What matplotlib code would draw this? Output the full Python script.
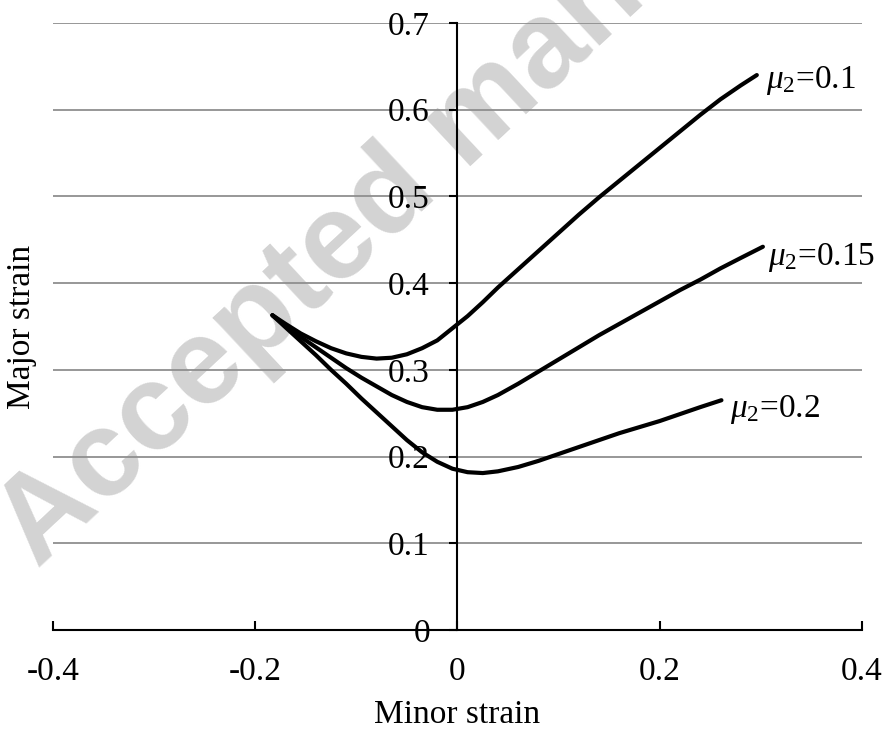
import matplotlib
matplotlib.use("Agg")
import matplotlib.pyplot as plt

plt.rcParams['font.family'] = ['Liberation Serif', 'DejaVu Serif']
plt.rcParams['mathtext.fontset'] = 'custom'
plt.rcParams['mathtext.rm'] = 'Liberation Serif'
plt.rcParams['mathtext.it'] = 'Liberation Serif:italic'
plt.rcParams['axes.unicode_minus'] = False

# curves (minor strain, major strain)
x_mu010 = [-0.183, -0.17, -0.155, -0.14, -0.125, -0.11, -0.095, -0.08, -0.065, -0.05,
           -0.035, -0.02, -0.005, 0.01, 0.025, 0.04, 0.06, 0.08, 0.10, 0.12,
           0.14, 0.16, 0.18, 0.20, 0.22, 0.24, 0.26, 0.28, 0.296]
y_mu010 = [0.363, 0.353, 0.342, 0.333, 0.325, 0.319, 0.315, 0.313, 0.314, 0.318,
           0.325, 0.334, 0.348, 0.362, 0.378, 0.395, 0.416, 0.437, 0.458, 0.479,
           0.499, 0.518, 0.537, 0.556, 0.575, 0.594, 0.612, 0.628, 0.640]

x_mu015 = [-0.183, -0.17, -0.155, -0.14, -0.125, -0.11, -0.095, -0.08, -0.065, -0.05,
           -0.035, -0.02, -0.005, 0.01, 0.025, 0.04, 0.06, 0.08, 0.10, 0.12,
           0.14, 0.16, 0.18, 0.20, 0.22, 0.24, 0.26, 0.28, 0.302]
y_mu015 = [0.363, 0.351, 0.338, 0.326, 0.314, 0.302, 0.291, 0.281, 0.271, 0.263,
           0.257, 0.254, 0.254, 0.257, 0.263, 0.271, 0.284, 0.298, 0.312, 0.326,
           0.340, 0.353, 0.366, 0.379, 0.392, 0.404, 0.417, 0.429, 0.442]

x_mu020 = [-0.183, -0.17, -0.155, -0.14, -0.125, -0.11, -0.095, -0.08, -0.065, -0.05,
           -0.035, -0.02, -0.005, 0.01, 0.025, 0.04, 0.06, 0.08, 0.10, 0.12,
           0.14, 0.16, 0.18, 0.20, 0.22, 0.24, 0.261]
y_mu020 = [0.363, 0.349, 0.333, 0.317, 0.300, 0.284, 0.267, 0.251, 0.235, 0.219,
           0.205, 0.194, 0.186, 0.182, 0.181, 0.183, 0.188, 0.195, 0.203, 0.211,
           0.219, 0.227, 0.234, 0.241, 0.249, 0.257, 0.265]

curve_labels = [r'$\mu_2$=0.1', r'$\mu_2$=0.15', r'$\mu_2$=0.2']
label_pos = [(0.305, 0.625), (0.307, 0.421), (0.269, 0.246)]

xticks = [-0.4, -0.2, 0, 0.2, 0.4]
xtick_labels = ['-0.4', '-0.2', '0', '0.2', '0.4']
yticks = [0, 0.1, 0.2, 0.3, 0.4, 0.5, 0.6, 0.7]
ytick_labels = ['0', '0.1', '0.2', '0.3', '0.4', '0.5', '0.6', '0.7']

fig = plt.figure(figsize=(8.86, 7.29), dpi=100)
ax = fig.add_axes([0.0598, 0.1358, 0.9131, 0.8326])

for xs, ys in [(x_mu010, y_mu010), (x_mu015, y_mu015), (x_mu020, y_mu020)]:
    ax.plot(xs, ys, color='black', lw=3, solid_capstyle='round',
            solid_joinstyle='round', zorder=3)

for txt, (tx, ty) in zip(curve_labels, label_pos):
    ax.text(tx, ty, txt, fontsize=24, ha='left', va='baseline')

ax.set_xlim(-0.4, 0.4)
ax.set_ylim(0, 0.7)

# excel style: y axis crosses at x = 0
ax.spines['left'].set_position(('data', 0))
for pos in ['right', 'top']:
    ax.spines[pos].set_visible(False)
for pos in ['left', 'bottom']:
    ax.spines[pos].set_linewidth(1.5)
    ax.spines[pos].set_zorder(4)

ax.set_xticks(xticks)
ax.set_xticklabels(xtick_labels)
ax.set_yticks(yticks)
ax.set_yticklabels(ytick_labels)
ax.tick_params(axis='x', direction='in', length=6.5, width=1.5, pad=19, labelsize=24)
ax.tick_params(axis='y', direction='out', length=5.8, width=1.5, pad=14, labelsize=24)

# grid and ticks stay above the watermark
ax.set_axisbelow(False)
ax.yaxis.grid(True, color='#8f8f8f', lw=1.3)

fig.text(457.5 / 886, 1 - 723 / 729, 'Minor strain', ha='center', va='baseline', fontsize=24)
fig.text(22 / 886, 1 - 327 / 729, 'Major strain', ha='center', va='center',
         rotation=90, fontsize=24)

# watermark
ax.text(38 / 886, 1 - 570 / 729, 'Accepted manuscript', transform=fig.transFigure,
        family='Liberation Sans', fontweight='bold', fontsize=88, color='#d3d3d3',
        rotation=43, rotation_mode='anchor', ha='left', va='baseline',
        clip_on=False, zorder=1.5)

plt.savefig('out.png')
